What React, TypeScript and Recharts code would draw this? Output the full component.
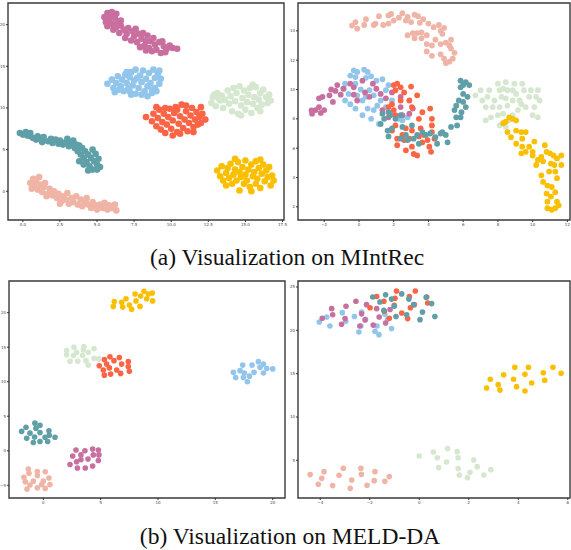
import { ScatterChart, Scatter, XAxis, YAxis, ReferenceArea } from 'recharts'

type Pt = [number, number]

// colours of the seven intent classes
const PURPLE = '#c96fa0'
const BLUE = '#92c5ec'
const RED = '#fc6446'
const GREEN = '#d5e8cf'
const TEAL = '#5f9fa7'
const PEACH = '#f0b4a6'
const YELLOW = '#f9bf00'

// (a) MIntRec, left panel
const aLeftPurple: Pt[] = [
    [5.7, 21.4], [6.0, 21.5], [6.3, 21.3], [5.9, 21.0], [5.5, 20.9], [6.2, 20.8], [5.8, 20.5], [6.4, 20.3],
    [6.0, 20.1], [5.7, 19.8], [6.3, 19.7], [6.6, 19.9], [6.1, 19.4], [6.8, 19.4], [7.1, 19.6], [6.5, 19.0],
    [7.0, 18.9], [7.4, 19.2], [6.9, 18.4], [7.5, 18.6], [7.8, 18.9], [8.1, 19.0], [7.3, 18.1], [7.7, 17.9],
    [8.0, 18.3], [8.4, 18.7], [8.6, 18.0], [8.2, 17.5], [7.9, 17.3], [8.5, 17.2], [8.9, 17.6], [8.3, 16.9],
    [8.7, 16.8], [9.2, 17.9], [9.0, 17.0], [9.5, 17.4], [9.3, 16.6], [9.7, 17.1], [9.9, 17.5], [10.1, 17.2],
    [9.6, 16.7], [10.4, 17.1], [9.4, 18.0], [8.8, 18.4], [7.6, 19.5], [6.6, 20.5], [5.6, 20.3], [8.3, 18.0],
]
const aLeftBlue: Pt[] = [
    [5.7, 12.9], [6.0, 13.4], [6.1, 12.4], [6.3, 13.0], [6.4, 13.8], [6.6, 12.6], [6.7, 13.4], [6.8, 12.0],
    [6.9, 14.0], [7.0, 13.0], [7.1, 12.3], [7.2, 13.7], [7.3, 14.3], [7.4, 12.7], [7.5, 13.3], [7.6, 14.6],
    [7.6, 11.7], [7.8, 12.4], [7.9, 13.9], [8.0, 13.1], [8.1, 14.5], [8.2, 12.0], [8.3, 13.5], [8.4, 12.6],
    [8.5, 14.2], [8.6, 13.0], [8.7, 11.8], [8.8, 14.6], [8.9, 12.4], [8.9, 13.6], [9.1, 14.1], [9.2, 12.9],
    [9.3, 13.5], [9.2, 14.5], [8.7, 12.2], [7.3, 11.6], [6.5, 12.2], [7.0, 14.3], [8.0, 11.6], [9.0, 12.0],
    [6.2, 11.9], [7.7, 13.6], [8.4, 11.4], [7.2, 12.0],
]
const aLeftRed: Pt[] = [
    [8.3, 8.9], [8.7, 8.4], [8.8, 9.3], [9.0, 7.8], [9.1, 8.8], [9.2, 9.8], [9.3, 7.4], [9.4, 8.3],
    [9.5, 9.3], [9.6, 7.0], [9.7, 8.0], [9.8, 8.9], [9.9, 9.9], [10.0, 7.5], [10.1, 6.7], [10.1, 8.5],
    [10.2, 9.4], [10.3, 10.1], [10.4, 7.1], [10.5, 8.1], [10.6, 9.0], [10.7, 10.4], [10.8, 7.6], [10.9, 8.6],
    [11.0, 9.6], [11.1, 7.2], [11.2, 8.2], [11.3, 9.1], [11.4, 10.0], [11.5, 7.7], [11.6, 8.6], [11.7, 9.5],
    [11.8, 8.0], [11.9, 8.9], [12.0, 10.1], [12.1, 9.3], [12.3, 8.6], [11.5, 7.1], [10.4, 9.8], [9.6, 10.0],
    [9.0, 10.1], [11.0, 10.3], [10.6, 6.9], [12.0, 8.2],
]
const aLeftGreen: Pt[] = [
    [12.7, 10.6], [12.8, 11.3], [13.0, 10.2], [13.1, 11.8], [13.3, 10.9], [13.4, 11.5], [13.5, 10.0], [13.6, 11.0],
    [13.8, 12.1], [13.9, 10.5], [14.0, 11.4], [14.1, 9.6], [14.2, 12.4], [14.3, 10.8], [14.4, 11.8], [14.5, 9.3],
    [14.6, 12.6], [14.7, 10.3], [14.8, 11.2], [14.9, 12.1], [15.0, 9.8], [15.1, 10.7], [15.2, 11.6], [15.3, 12.4],
    [15.4, 9.4], [15.5, 10.5], [15.6, 11.3], [15.7, 12.5], [15.8, 10.0], [15.9, 11.0], [16.0, 11.8], [16.1, 10.4],
    [16.2, 12.2], [16.4, 11.3], [16.5, 10.6], [16.6, 11.6], [16.7, 10.9], [13.2, 11.1], [14.7, 9.1], [15.5, 12.8],
    [12.9, 11.6], [16.0, 9.6],
]
const aLeftTeal: Pt[] = [
    [-0.2, 7.0], [0.0, 6.8], [0.2, 7.1], [0.3, 6.7], [0.5, 6.6], [0.5, 7.0], [0.7, 6.4], [0.9, 6.2],
    [1.0, 6.6], [1.2, 6.3], [1.3, 5.9], [1.4, 6.5], [1.7, 6.0], [1.9, 6.3], [2.0, 5.8], [2.2, 6.2],
    [2.4, 5.7], [2.5, 6.1], [2.7, 5.6], [2.9, 5.9], [3.0, 6.3], [3.1, 5.4], [3.3, 5.8], [3.4, 6.1],
    [3.5, 5.2], [3.6, 5.6], [3.7, 4.8], [3.8, 5.5], [3.9, 4.4], [4.0, 5.2], [4.1, 4.0], [4.2, 4.8],
    [4.3, 3.5], [4.4, 4.4], [4.5, 3.0], [4.6, 4.0], [4.7, 2.6], [4.8, 3.6], [4.9, 4.5], [5.0, 3.2],
    [5.1, 3.9], [5.2, 2.9], [4.1, 3.2], [3.8, 3.6], [4.4, 2.5], [4.7, 5.0], [5.0, 2.6],
]
const aLeftPeach: Pt[] = [
    [0.5, 1.0], [0.7, 1.5], [0.8, 0.6], [0.9, 1.2], [1.0, 0.2], [1.1, 1.7], [1.2, 0.8], [1.3, -0.1],
    [1.4, 0.5], [1.5, 1.0], [1.7, -0.3], [1.8, 0.3], [2.0, -0.5], [2.1, 0.0], [2.3, -0.8], [2.4, -0.3],
    [2.6, -1.2], [2.7, -0.6], [2.9, -1.0], [3.0, -0.2], [3.1, -1.5], [3.3, -0.8], [3.4, -1.3], [3.6, -0.6],
    [3.7, -1.6], [3.9, -1.0], [4.0, -1.8], [4.2, -1.2], [4.3, -0.8], [4.4, -1.6], [4.6, -2.0], [4.7, -1.3],
    [4.9, -1.7], [5.0, -2.2], [5.2, -1.6], [5.4, -2.0], [5.5, -1.4], [5.7, -2.2], [5.8, -1.7], [6.0, -2.0],
    [6.2, -1.6], [6.3, -2.3], [0.6, 0.3], [1.6, -0.6], [2.5, -1.5],
]
const aLeftYellow: Pt[] = [
    [13.1, 2.5], [13.3, 1.8], [13.4, 3.0], [13.5, 1.3], [13.7, 2.2], [13.8, 2.8], [13.9, 1.6], [14.0, 3.3],
    [14.1, 0.9], [14.2, 2.0], [14.3, 2.6], [14.4, 1.3], [14.5, 3.5], [14.6, 0.1], [14.6, 2.3], [14.7, 1.7],
    [14.8, 2.9], [14.9, 0.9], [15.0, 3.7], [15.0, 2.0], [15.1, 1.3], [15.2, 2.6], [15.3, 0.5], [15.4, 3.2],
    [15.5, 1.8], [15.6, 2.3], [15.7, 3.6], [15.7, 0.9], [15.8, 1.5], [15.9, 2.8], [16.0, 0.4], [16.1, 2.1],
    [16.2, 3.2], [16.3, 1.2], [16.4, 2.5], [16.5, 1.7], [16.6, 2.9], [16.7, 0.7], [16.8, 1.9], [16.9, 1.3],
    [14.3, 3.9], [16.0, 3.8], [15.4, 0.0], [13.7, 0.7],
]

// (a) MIntRec, right panel
const aRightPeach: Pt[] = [
    [-0.4, 14.36], [-0.2, 14.6], [-0.1, 14.15], [0.4, 14.8], [0.3, 14.4], [0.85, 14.4], [0.95, 14.5], [1.15, 15.0],
    [1.4, 14.4], [1.7, 15.05], [1.85, 15.15], [1.7, 14.5], [2.0, 14.7], [2.3, 14.9], [2.5, 15.2], [2.7, 14.7],
    [2.8, 14.95], [3.0, 14.6], [3.2, 15.1], [3.4, 15.0], [3.5, 14.55], [3.7, 14.8], [2.8, 13.7], [3.1, 13.85],
    [3.35, 13.85], [3.2, 13.5], [3.6, 13.9], [3.6, 13.5], [3.9, 13.7], [3.9, 13.1], [4.0, 14.5], [4.3, 14.25],
    [4.4, 13.4], [4.6, 14.4], [4.7, 14.0], [4.9, 14.2], [4.8, 13.8], [4.2, 13.0], [4.7, 13.1], [5.0, 13.2],
    [5.2, 13.0], [5.3, 13.4], [3.9, 12.6], [4.2, 12.3], [4.7, 12.4], [4.9, 12.1], [5.0, 11.8], [5.3, 12.8],
    [5.5, 12.5], [5.4, 12.1], [5.2, 11.9],
]
const aRightBlue: Pt[] = [
    [-0.5, 10.95], [-0.3, 11.3], [-0.1, 11.2], [0.3, 11.35], [0.5, 11.2], [-0.2, 10.85], [0.4, 10.8], [0.7, 10.9],
    [1.0, 10.6], [1.35, 10.7], [-0.8, 10.4], [-0.87, 10.05], [-0.6, 9.7], [-0.8, 9.25], [-0.5, 9.0], [-0.2, 10.4],
    [0.1, 10.0], [-0.1, 9.6], [0.2, 9.25], [-0.2, 8.7], [0.4, 9.5], [0.6, 9.95], [0.85, 9.6], [0.5, 8.7],
    [0.7, 8.0], [0.2, 8.25], [1.05, 8.9], [1.25, 9.25], [1.55, 8.8], [1.7, 10.3], [1.9, 9.25], [1.55, 9.95],
    [1.15, 7.65], [1.9, 8.35], [2.3, 8.0], [0.85, 8.6], [2.5, 7.9], [2.8, 8.1],
]
const aRightPurple: Pt[] = [
    [-2.73, 8.58], [-2.7, 8.35], [-2.5, 8.6], [-2.3, 8.8], [-2.2, 8.4], [-2.0, 8.6], [-2.3, 9.4], [-2.1, 9.5],
    [-1.7, 9.6], [-1.6, 10.0], [-1.5, 9.15], [-1.35, 9.9], [-1.25, 10.3], [-1.05, 9.65], [-0.9, 10.05], [-0.5, 10.4],
    [-0.3, 10.15], [-0.3, 9.65], [0.2, 10.6], [0.35, 9.8], [0.6, 9.5], [1.0, 10.05], [1.25, 9.7], [1.55, 9.4],
    [1.9, 9.8], [2.4, 9.5], [2.4, 8.8], [3.1, 8.7], [2.5, 8.25], [1.7, 8.1], [2.9, 8.35], [1.35, 8.6],
    [0.8, 10.4], [-0.1, 9.25],
]
const aRightRed: Pt[] = [
    [2.0, 10.3], [2.2, 10.4], [2.4, 10.15], [3.0, 10.2], [2.1, 9.95], [2.6, 9.8], [2.4, 9.25], [2.9, 9.25],
    [3.35, 9.6], [3.05, 8.8], [1.9, 9.0], [2.0, 8.6], [3.65, 8.45], [4.1, 8.7], [3.45, 8.0], [4.2, 8.0],
    [2.1, 7.55], [2.7, 7.35], [3.05, 7.2], [3.55, 7.35], [3.75, 6.9], [4.2, 7.55], [4.2, 7.1], [2.2, 6.65],
    [2.2, 6.2], [2.6, 6.55], [2.7, 5.85], [3.05, 6.1], [3.15, 5.6], [3.35, 5.5], [3.45, 6.8], [3.65, 6.4],
    [4.05, 6.1], [4.15, 5.75], [4.35, 6.65], [1.9, 7.2], [2.1, 8.25], [1.7, 8.8], [2.5, 6.9], [2.9, 6.65],
    [3.95, 6.55],
]
const aRightTeal: Pt[] = [
    [1.35, 8.35], [1.45, 8.0], [1.25, 7.65], [1.7, 8.45], [1.8, 8.25], [1.65, 7.2], [1.9, 7.35], [1.7, 6.8],
    [2.4, 8.25], [2.1, 8.0], [2.5, 7.45], [2.4, 6.65], [2.7, 6.9], [2.8, 6.55], [3.15, 6.65], [3.35, 6.9],
    [3.05, 7.55], [3.45, 6.3], [3.65, 7.1], [3.85, 6.9], [4.1, 7.0], [4.4, 6.75], [4.5, 6.3], [4.8, 7.1],
    [5.0, 6.9], [5.3, 7.45], [5.1, 6.4], [4.7, 7.0], [5.65, 7.55], [5.6, 8.1], [5.5, 8.6], [5.6, 8.9],
    [5.85, 8.1], [5.9, 8.45], [6.15, 8.8], [6.0, 9.15], [5.75, 9.25], [6.0, 9.7], [6.25, 9.5], [5.85, 10.15],
    [6.15, 10.5], [6.0, 10.3], [6.35, 10.3], [5.85, 10.6],
]
const aRightGreen: Pt[] = [
    [6.7, 9.6], [7.0, 9.95], [7.1, 9.25], [7.5, 9.95], [7.4, 9.5], [7.3, 8.8], [7.7, 8.8], [7.3, 7.9],
    [7.6, 8.1], [8.0, 10.4], [8.1, 9.95], [8.3, 10.05], [8.2, 9.5], [8.1, 8.8], [8.0, 8.25], [8.1, 7.55],
    [8.45, 10.5], [8.55, 9.95], [8.45, 9.4], [8.55, 8.9], [8.85, 9.25], [8.95, 10.4], [9.05, 9.7], [9.15, 8.6],
    [8.85, 8.25], [9.4, 10.4], [9.25, 9.25], [9.5, 9.95], [9.6, 8.8], [9.8, 9.5], [9.9, 9.95], [10.0, 8.25],
    [10.1, 8.8], [10.2, 9.5], [10.3, 9.95], [10.4, 9.25], [10.3, 8.1], [8.3, 8.35], [8.45, 7.45], [8.65, 7.9],
    [7.8, 9.25], [8.85, 9.95], [9.35, 9.0],
]
const aRightYellow: Pt[] = [
    [8.3, 7.7], [8.45, 7.8], [8.65, 8.1], [8.85, 8.0], [9.05, 7.9], [8.55, 7.1], [8.75, 6.75], [9.05, 7.2],
    [9.35, 7.1], [9.4, 6.65], [9.6, 7.1], [9.05, 6.3], [9.4, 6.1], [9.35, 5.65], [9.6, 5.75], [10.0, 5.75],
    [9.8, 6.1], [10.1, 6.45], [10.0, 5.5], [10.7, 6.2], [10.5, 5.4], [10.8, 5.75], [11.0, 5.65], [11.2, 5.5],
    [11.65, 5.5], [10.3, 5.2], [10.2, 4.85], [10.6, 5.1], [11.05, 4.95], [11.25, 4.85], [11.4, 5.3], [11.65, 4.85],
    [10.5, 4.15], [10.6, 3.7], [10.95, 4.4], [11.3, 4.4], [11.4, 3.95], [10.85, 3.45], [11.1, 3.35], [11.3, 3.0],
    [10.8, 2.9], [11.05, 2.7], [10.85, 2.35], [11.4, 2.35], [10.85, 1.9], [11.1, 1.8], [11.3, 1.9], [11.5, 2.1],
]

// (b) MELD-DA, left panel
const bLeftYellow: Pt[] = [
    [6.1, 20.9], [6.19, 21.6], [6.83, 21.5], [6.92, 20.8], [7.21, 22.0], [7.5, 21.1], [7.7, 20.5], [8.0, 22.7],
    [8.08, 21.7], [8.43, 20.9], [8.49, 22.4], [8.78, 23.1], [9.01, 22.0], [9.16, 22.7], [9.5, 22.85], [9.53, 21.7],
]
const bLeftGreen: Pt[] = [
    [2.03, 14.5], [2.03, 13.9], [2.33, 12.95], [2.62, 13.8], [2.67, 15.0], [2.9, 14.25], [3.0, 12.95], [3.43, 13.8],
    [3.49, 14.6], [3.55, 15.1], [3.72, 13.05], [3.92, 14.25], [3.92, 12.4], [4.42, 14.8], [4.42, 13.4], [4.83, 13.3],
]
const bLeftRed: Pt[] = [
    [4.88, 12.3], [5.23, 11.7], [5.32, 13.2], [5.32, 10.95], [5.52, 12.55], [5.76, 12.0], [5.87, 11.1], [5.81, 13.6],
    [6.16, 13.05], [6.4, 11.7], [6.63, 13.5], [6.83, 12.55], [6.74, 11.2], [7.41, 12.9], [7.41, 12.2], [7.5, 11.5],
]
const bLeftBlue: Pt[] = [
    [16.57, 11.35], [16.77, 10.6], [17.15, 11.6], [17.38, 12.4], [17.44, 10.6], [17.53, 11.25], [17.79, 10.0], [17.97, 10.8],
    [18.2, 12.4], [18.37, 11.35], [18.75, 12.9], [18.9, 12.1], [19.19, 12.55], [19.19, 11.25], [19.48, 11.9], [20.0, 11.85],
]
const bLeftTeal: Pt[] = [
    [-1.89, 2.8], [-1.51, 3.4], [-1.45, 1.8], [-1.16, 2.55], [-0.87, 1.2], [-0.76, 2.0], [-0.73, 4.0], [-0.64, 3.25],
    [-0.29, 3.7], [-0.29, 2.65], [-0.29, 1.35], [0.15, 1.95], [0.38, 1.35], [0.49, 2.9], [0.52, 2.25], [1.02, 1.95],
]
const bLeftPurple: Pt[] = [
    [2.33, -2.0], [2.56, -0.75], [2.85, 0.1], [2.9, -1.6], [2.97, -2.5], [3.28, -0.6], [3.28, -1.3], [3.63, 0.0],
    [3.66, -2.5], [3.9, -1.2], [4.3, -2.2], [4.3, 0.25], [4.36, -0.6], [4.8, 0.1], [4.8, -1.4], [4.85, -0.6],
]
const bLeftPeach: Pt[] = [
    [-1.69, -3.85], [-1.57, -4.5], [-1.31, -2.65], [-1.25, -3.25], [-1.16, -4.95], [-1.42, -5.55], [-0.87, -4.4], [-0.52, -3.0],
    [-0.52, -3.6], [-0.52, -5.35], [-0.15, -4.9], [0.0, -4.4], [0.17, -3.05], [0.17, -5.45], [0.49, -3.95], [0.58, -4.9],
]

// (b) MELD-DA, right panel
const bRightBlue: Pt[] = [
    [-4.04, 20.96], [-3.74, 21.54], [-3.61, 20.5], [-3.11, 22.04], [-2.97, 21.04], [-2.62, 21.6], [-2.44, 19.8], [-2.33, 22.1],
    [-2.36, 20.5], [-2.17, 21.27], [-1.79, 19.9], [-1.71, 20.5], [-1.63, 19.5], [-1.39, 21.85], [-1.28, 21.27], [-1.12, 20.2],
]
const bRightPurple: Pt[] = [
    [-3.92, 21.4], [-3.54, 22.5], [-3.5, 21.8], [-3.14, 20.7], [-3.0, 21.35], [-2.96, 22.77], [-2.56, 23.35], [-2.4, 20.5],
    [-2.33, 21.9], [-2.19, 21.2], [-2.13, 22.96], [-1.86, 20.6], [-1.72, 22.5], [-1.62, 21.54], [-1.36, 20.85], [-1.18, 22.4],
]
const bRightRed: Pt[] = [
    [-1.99, 22.6], [-1.72, 23.9], [-1.43, 23.35], [-1.41, 22.2], [-1.21, 21.4], [-1.01, 22.9], [-0.98, 23.7], [-0.92, 24.54],
    [-0.71, 22.0], [-0.47, 21.35], [-0.4, 23.9], [-0.36, 22.6], [-0.2, 22.96], [-0.16, 24.54], [0.3, 23.85], [0.34, 23.15],
]
const bRightTeal: Pt[] = [
    [-1.88, 23.85], [-1.59, 23.27], [-1.43, 22.3], [-1.36, 24.1], [-1.12, 23.6], [-1.01, 22.77], [-0.94, 21.6], [-0.71, 24.2],
    [-0.51, 21.8], [-0.42, 23.6], [-0.23, 22.96], [0.03, 21.23], [0.13, 22.1], [0.28, 23.8], [0.5, 23.08], [0.63, 21.6],
]
const bRightYellow: Pt[] = [
    [2.72, 13.35], [2.87, 14.35], [3.19, 13.73], [3.26, 13.1], [3.41, 14.88], [3.81, 14.35], [3.86, 15.73], [3.93, 13.5],
    [4.27, 14.92], [4.41, 15.73], [4.54, 13.92], [4.27, 13.0], [5.01, 15.1], [5.07, 14.23], [5.4, 15.73], [5.73, 15.04],
]
const bRightGreen: Pt[] = [
    [0.0, 5.5], [0.57, 5.96], [0.73, 5.3], [0.78, 4.15], [1.1, 4.8], [1.14, 6.35], [1.53, 6.0], [1.57, 5.3],
    [1.57, 4.04], [1.62, 3.3], [1.95, 3.0], [2.05, 3.62], [2.2, 5.04], [2.34, 4.27], [2.61, 3.3], [2.89, 3.92],
]
const bRightPeach: Pt[] = [
    [-4.41, 3.35], [-4.08, 2.23], [-3.94, 2.92], [-3.85, 3.69], [-3.5, 2.08], [-3.24, 3.27], [-3.07, 4.08], [-2.73, 2.73],
    [-2.79, 1.77], [-2.36, 4.08], [-2.34, 3.38], [-2.11, 2.12], [-1.79, 3.69], [-1.82, 2.65], [-1.39, 2.58], [-1.21, 3.12],
]

// tick values
const aLeftXTicks = [0, 2.5, 5, 7.5, 10, 12.5, 15, 17.5]
const aLeftYTicks = [0, 5, 10, 15, 20]
const aRightXTicks = [-2, 0, 2, 4, 6, 8, 10, 12]
const aRightYTicks = [2, 4, 6, 8, 10, 12, 14]
const bLeftXTicks = [0, 5, 10, 15, 20]
const bLeftYTicks = [-5, 0, 5, 10, 15, 20]
const bRightXTicks = [-4, -2, 0, 2, 4, 6]
const bRightYTicks = [5, 10, 15, 20, 25]

const fmt = (v: number) => (v < 0 ? '\u2212' + Math.abs(v) : String(v))
const fmt1 = (v: number) => v.toFixed(1)

interface Series {
    data: Pt[]
    color: string
}

interface PanelProps {
    left: number
    top: number
    w: number
    h: number
    xDomain: [number, number]
    yDomain: [number, number]
    xTicks: number[]
    yTicks: number[]
    xFmt?: (v: number) => string
    series: Series[]
    r: number
}

const PAD_L = 20
const PAD_T = 4
const PAD_R = 4
const X_H = 14

function Panel({ left, top, w, h, xDomain, yDomain, xTicks, yTicks, xFmt = fmt, series, r }: PanelProps) {
    const tick = { fontSize: 4, fill: '#444', fontFamily: 'DejaVu Sans' }
    return (
        <div style={{ position: 'absolute', left: left - PAD_L, top: top - PAD_T }}>
            <ScatterChart
                width={w + PAD_L + PAD_R}
                height={h + PAD_T + X_H}
                margin={{ top: PAD_T, right: PAD_R, bottom: 0, left: 0 }}
            >
                <XAxis
                    type="number"
                    dataKey="x"
                    domain={xDomain}
                    ticks={xTicks}
                    tickFormatter={xFmt}
                    allowDataOverflow
                    height={X_H}
                    axisLine={false}
                    tickSize={2}
                    tickMargin={1}
                    tickLine={{ stroke: '#333' }}
                    tick={tick}
                    interval={0}
                />
                <YAxis
                    type="number"
                    dataKey="y"
                    domain={yDomain}
                    ticks={yTicks}
                    tickFormatter={fmt}
                    allowDataOverflow
                    width={PAD_L}
                    axisLine={false}
                    tickSize={2}
                    tickMargin={1}
                    tickLine={{ stroke: '#333' }}
                    tick={tick}
                    interval={0}
                />
                {series.map((s, i) => (
                    <Scatter
                        key={i}
                        data={s.data.map(([x, y]) => ({ x, y }))}
                        fill={s.color}
                        isAnimationActive={false}
                        shape={(p: any) => <circle cx={p.cx} cy={p.cy} r={r} fill={s.color} />}
                    />
                ))}
                <ReferenceArea
                    x1={xDomain[0]}
                    x2={xDomain[1]}
                    y1={yDomain[0]}
                    y2={yDomain[1]}
                    fill="none"
                    fillOpacity={0}
                    stroke="#3a3a3a"
                    strokeWidth={1.4}
                    ifOverflow="visible"
                />
            </ScatterChart>
        </div>
    )
}

export default function App() {
    return (
        <div style={{ position: 'absolute', left: 0, top: 0, width: 571, height: 550, background: '#fff' }}>
            <Panel
                left={8} top={3} w={276} h={217}
                xDomain={[-1, 17.6]} yDomain={[-3.45, 22.6]}
                xTicks={aLeftXTicks} yTicks={aLeftYTicks} xFmt={fmt1}
                r={3.3}
                series={[
                    { data: aLeftBlue, color: BLUE },
                    { data: aLeftPurple, color: PURPLE },
                    { data: aLeftRed, color: RED },
                    { data: aLeftTeal, color: TEAL },
                    { data: aLeftGreen, color: GREEN },
                    { data: aLeftYellow, color: YELLOW },
                    { data: aLeftPeach, color: PEACH },
                ]}
            />
            <Panel
                left={298} top={3} w={272} h={217}
                xDomain={[-3.51, 12.15]} yDomain={[1.1, 15.9]}
                xTicks={aRightXTicks} yTicks={aRightYTicks}
                r={2.9}
                series={[
                    { data: aRightBlue, color: BLUE },
                    { data: aRightPurple, color: PURPLE },
                    { data: aRightRed, color: RED },
                    { data: aRightTeal, color: TEAL },
                    { data: aRightGreen, color: GREEN },
                    { data: aRightYellow, color: YELLOW },
                    { data: aRightPeach, color: PEACH },
                ]}
            />
            <Panel
                left={9} top={281} w={276} h={217}
                xDomain={[-2.99, 21.07]} yDomain={[-6.84, 24.58]}
                xTicks={bLeftXTicks} yTicks={bLeftYTicks}
                r={2.8}
                series={[
                    { data: bLeftBlue, color: BLUE },
                    { data: bLeftPurple, color: PURPLE },
                    { data: bLeftRed, color: RED },
                    { data: bLeftTeal, color: TEAL },
                    { data: bLeftGreen, color: GREEN },
                    { data: bLeftYellow, color: YELLOW },
                    { data: bLeftPeach, color: PEACH },
                ]}
            />
            <Panel
                left={298} top={281} w={272} h={217}
                xDomain={[-4.9, 6.09]} yDomain={[0.65, 25.69]}
                xTicks={bRightXTicks} yTicks={bRightYTicks}
                r={2.8}
                series={[
                    { data: bRightBlue, color: BLUE },
                    { data: bRightPurple, color: PURPLE },
                    { data: bRightRed, color: RED },
                    { data: bRightTeal, color: TEAL },
                    { data: bRightGreen, color: GREEN },
                    { data: bRightYellow, color: YELLOW },
                    { data: bRightPeach, color: PEACH },
                ]}
            />
            <svg width={571} height={550} style={{ position: 'absolute', left: 0, top: 0, pointerEvents: 'none' }}>
                <text x={287} y={265} textAnchor="middle" fontFamily="Liberation Serif" fontSize={23.5} fill="#111">
                    (a) Visualization on MIntRec
                </text>
                <text x={290} y={544} textAnchor="middle" fontFamily="Liberation Serif" fontSize={23.5} fill="#111">
                    (b) Visualization on MELD-DA
                </text>
            </svg>
        </div>
    )
}
